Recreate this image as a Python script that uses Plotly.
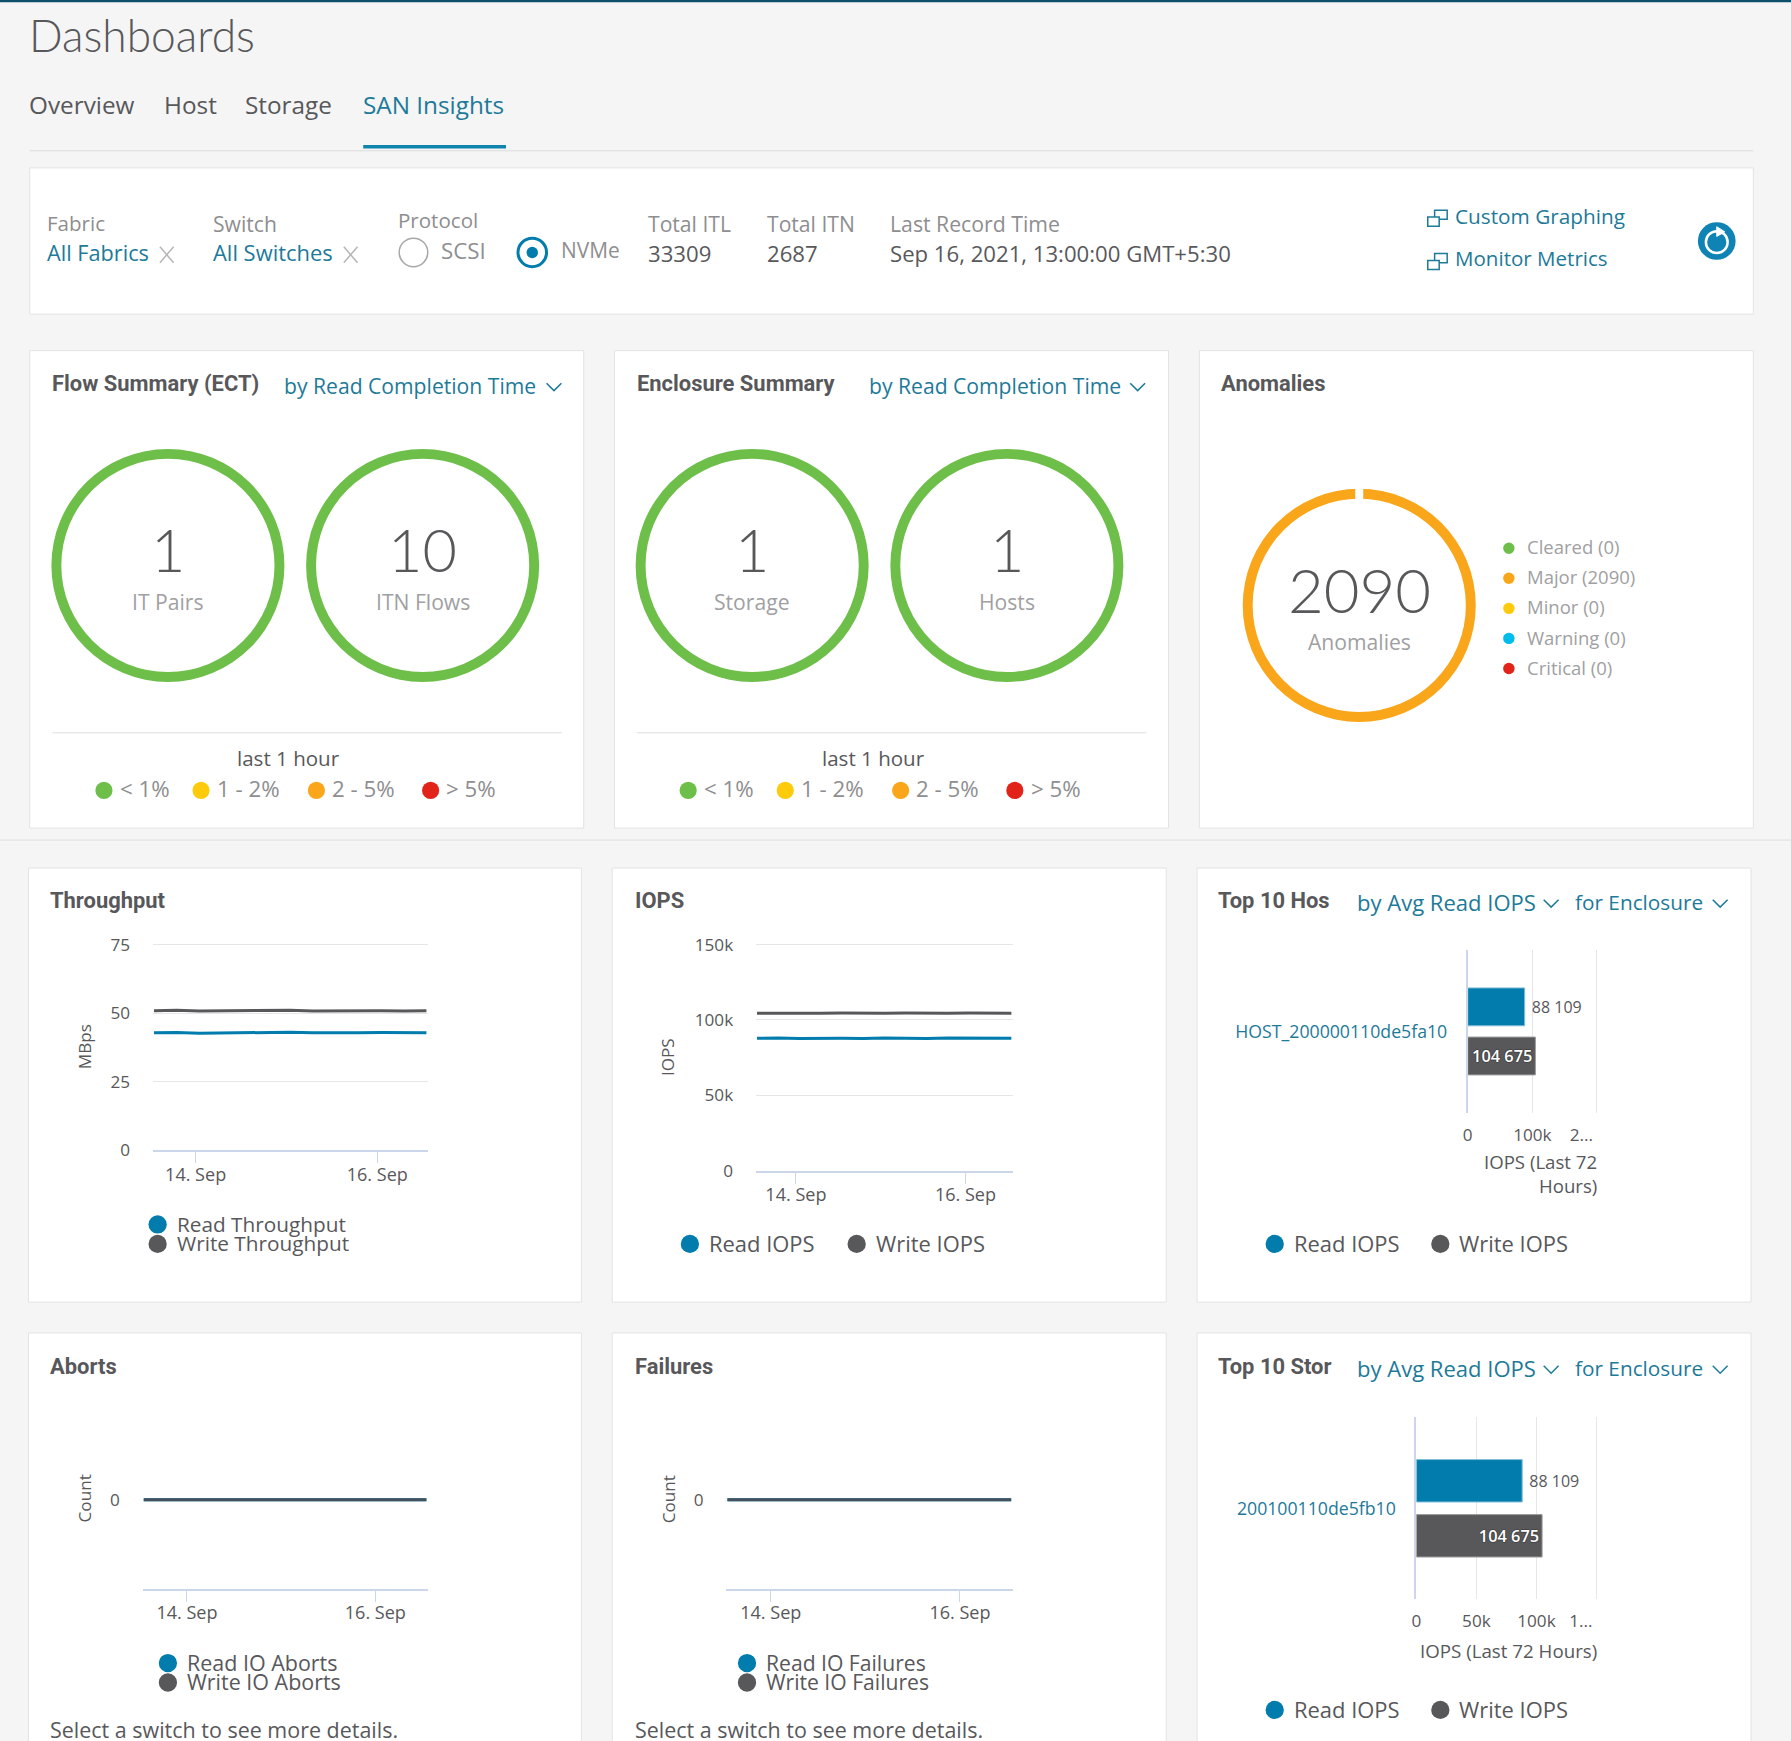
#! /usr/bin/env python3

import plotly.graph_objects as go

WIDTH = 1791
HEIGHT = 1741
S = WIDTH / 1568  # layout below was measured on a 1568 wide copy

BG = "#f5f5f5"
TEAL = "#1d7a99"
DARK = "#58585b"
GREY = "#8e8e90"
BLUE = "#017cad"
GREEN = "#6ebe4a"
ORANGE = "#f9a61a"
YELLOW = "#fdcb0b"
CYAN = "#00bceb"
RED = "#e2231a"
FONT = "Open Sans"

##### data
times = ["2021-09-13 13:00", "2021-09-13 19:00", "2021-09-14 01:00", "2021-09-14 07:00",
         "2021-09-14 13:00", "2021-09-14 19:00", "2021-09-15 01:00", "2021-09-15 07:00",
         "2021-09-15 13:00", "2021-09-15 19:00", "2021-09-16 01:00", "2021-09-16 07:00",
         "2021-09-16 13:00"]
read_throughput = [42.8, 42.9, 42.7, 42.8, 42.9, 42.8, 43.0, 42.8, 42.7, 42.8, 42.9, 42.8, 42.8]
write_throughput = [50.9, 51.0, 50.8, 50.9, 51.0, 50.9, 51.0, 50.8, 50.9, 51.0, 50.9, 50.8, 50.9]
read_iops = [87900, 88100, 87700, 88000, 87900, 87800, 88100, 87900, 87700, 88000, 87900, 88100, 87900]
write_iops = [104400, 104600, 104300, 104500, 104600, 104400, 104500, 104700, 104400, 104500, 104600, 104400, 104500]
read_aborts = [0] * 13
write_aborts = [0] * 13
read_failures = [0] * 13
write_failures = [0] * 13

host_names = ["HOST_200000110de5fa10"]
host_read = [88109]
host_write = [104675]
storage_names = ["200100110de5fb10"]
storage_read = [88109]
storage_write = [104675]

flow_values = [1, 10]
flow_labels = ["IT Pairs", "ITN Flows"]
enclosure_values = [1, 1]
enclosure_labels = ["Storage", "Hosts"]
anomaly_labels = ["Cleared", "Major", "Minor", "Warning", "Critical"]
anomaly_values = [0, 2090, 0, 0, 0]
anomaly_colors = [GREEN, ORANGE, YELLOW, CYAN, RED]
range_labels = ["< 1%", "1 - 2%", "2 - 5%", "> 5%"]
range_colors = [GREEN, YELLOW, ORANGE, RED]


def px(v):
     return v / 1568


def py(v):
     return 1 - v * S / HEIGHT


annotations = []
shapes = []


def text(x, y, s, size=19, color=DARK, anchor="left", weight=None, font=FONT, **kw):
     f = dict(family=font, size=size * S, color=color)
     if weight:
          f["weight"] = weight
     x += {"left": -2, "right": 1.5, "center": 0}[anchor]  # annotation box has padding
     annotations.append(dict(x=px(x), y=py(y - 0.7), text=s, xref="paper", yref="paper", showarrow=False,
                             xanchor=anchor, yanchor="middle", font=f, **kw))


def rect(x0, y0, x1, y1, fill, line=None, layer="below", width=1):
     shapes.append(dict(type="rect", xref="paper", yref="paper", x0=px(x0), x1=px(x1), y0=py(y0), y1=py(y1),
                        fillcolor=fill, line=dict(color=line, width=width if line else 0), layer=layer))


def dot(x, y, r, fill, line=None, width=1, layer="below"):
     shapes.append(dict(type="circle", xref="paper", yref="paper", x0=px(x - r), x1=px(x + r), y0=py(y - r),
                        y1=py(y + r), fillcolor=fill, line=dict(color=line, width=width if line else 0), layer=layer))


def path(points, color, width=1.5, fill=None):
     d = "M " + " L ".join(f"{px(a):.5f},{py(b):.5f}" for a, b in points)
     if fill:
          d += " Z"
     shapes.append(dict(type="path", xref="paper", yref="paper", path=d, line=dict(color=color, width=width),
                        fillcolor=fill, layer="below"))


def chevron(x, y):
     path([(x - 6.5, y - 3.5), (x, y + 3), (x + 6.5, y - 3.5)], TEAL)


def cross(x, y):
     path([(x - 6, y - 7), (x + 6, y + 7)], "#b5b5b5")
     path([(x - 6, y + 7), (x + 6, y - 7)], "#b5b5b5")


def icon(x, y):
     rect(x + 6, y - 6, x + 17, y + 2, "white", TEAL, width=1.5)
     rect(x, y, x + 10, y + 8, "white", TEAL, width=1.5)


def card(x0, y0, x1, y1):
     rect(x0, y0, x1, y1, "white", "#e3e3e3")


fig = go.Figure()

##### page furniture
rect(0, 0, 1568, 2, "#0e4f6e")
text(26, 30.7, "Dashboards", size=38.8, weight=300, font="Lato")
for x, s, c in [(26, "Overview", DARK), (144, "Host", DARK), (215, "Storage", DARK), (318, "SAN Insights", TEAL)]:
     text(x, 92, s, size=21.3, color=c)
rect(26, 131.5, 1535, 132.5, "#dcdcdc")
rect(318, 127, 443, 130, "#0f84ad")

card(26, 147, 1535, 275)
text(41, 196, "Fabric", color=GREY, size=18)
text(41, 222, "All Fabrics", color=TEAL, size=19)
cross(146, 223)
text(187, 196, "Switch", color=GREY, size=18.5)
text(187, 222, "All Switches", color=TEAL, size=19.2)
cross(307, 223)
text(349, 193, "Protocol", color=GREY, size=18)
dot(362, 221, 12.5, "white", "#a8a8a8", 1.5)
text(386, 220, "SCSI", color=GREY, size=19.5)
dot(466, 221, 12.5, "white", BLUE, 3)
dot(466, 221, 5, BLUE)
text(491, 220, "NVMe", color=GREY, size=18.3)
text(568, 196, "Total ITL", color=GREY, size=18.5)
text(568, 222, "33309", color=DARK, size=19.4)
text(672, 196, "Total ITN", color=GREY, size=18.5)
text(672, 222, "2687", color=DARK, size=19.4)
text(779, 196, "Last Record Time", color=GREY, size=18.6)
text(779, 222, "Sep 16, 2021, 13:00:00 GMT+5:30", color=DARK, size=19.4)
icon(1250, 190)
text(1274, 190, "Custom Graphing", color=TEAL, size=18.2)
icon(1250, 228)
text(1274, 227, "Monitor Metrics", color=TEAL, size=18)
dot(1503, 211, 16.5, "#0f84b4")
dot(1503, 212, 9.5, "#0f84b4", "white", 2.5)
path([(1503, 198.5), (1510, 203), (1503, 207)], "white", 1, "white")

##### summary row
card(26, 307, 511, 725)
card(538, 307, 1023, 725)
card(1050, 307, 1535, 725)
rect(0, 735, 1568, 736, "#e3e3e3")
text(46, 336.7, "Flow Summary (ECT)", weight=700, size=19.2, font="Roboto")
text(249, 338, "by Read Completion Time", color=TEAL, size=18.5)
chevron(485, 339)
text(558, 336.7, "Enclosure Summary", weight=700, size=19.2, font="Roboto")
text(761, 338, "by Read Completion Time", color=TEAL, size=18.5)
chevron(996, 339)
text(1069, 336.7, "Anomalies", weight=700, size=19.2, font="Roboto")


def ring(cx, cy, values, colors):
     r = 102
     fig.add_trace(go.Pie(values=values, marker=dict(colors=colors, line=dict(width=0)), hole=0.915, sort=False,
                          textinfo="none", showlegend=False, direction="clockwise",
                          domain=dict(x=[px(cx - r), px(cx + r)], y=[py(cy + r), py(cy - r)])))


for offset, values, labels in [(0, flow_values, flow_labels), (511.5, enclosure_values, enclosure_labels)]:
     for i, cx in enumerate([147, 370]):
          ring(cx + offset, 495, [values[i]], [GREEN])
          text(cx + offset, 481, str(values[i]), size=52, color=DARK, anchor="center", weight=300, font="Lato")
          text(cx + offset, 527, labels[i], color="#a0a0a2", anchor="center", size=18.5)
     rect(46 + offset, 641, 492 + offset, 642, "#dedede")
     text(253 + offset, 664, "last 1 hour", anchor="center", size=18)
     for s, c, x in zip(range_labels, range_colors, [91, 176, 277, 377]):
          dot(x + offset, 692, 7.5, c)
          text(x + 14 + offset, 691, s, color=GREY, size=19.5)

ring(1190, 530, anomaly_values, anomaly_colors)
rect(1186.5, 425, 1193.5, 442, "white", layer="above")
text(1190, 516, f"{sum(anomaly_values)}", size=54, anchor="center", weight=300, font="Lato")
text(1190, 562, "Anomalies", color="#a0a0a2", anchor="center", size=18.5)
for i, (s, v, c) in enumerate(zip(anomaly_labels, anomaly_values, anomaly_colors)):
     dot(1321, 480 + 26.3 * i, 5, c)
     text(1337, 479.5 + 26.3 * i, f"{s} ({v})", color="#a0a0a2", size=16.2)

##### chart cards
for x0, x1 in [(25, 509), (536, 1021), (1048, 1533)]:
     card(x0, 760, x1, 1140)
     card(x0, 1167, x1, 1560)

text(44, 788.7, "Throughput", weight=700, size=19.2, font="Roboto")
text(556, 788.7, "IOPS", weight=700, size=19.2, font="Roboto")
text(44, 1196.7, "Aborts", weight=700, size=19.2, font="Roboto")
text(556, 1196.7, "Failures", weight=700, size=19.2, font="Roboto")
for y, s in [(788.7, "Top 10 Hos"), (1196.7, "Top 10 Stor")]:
     text(1067, y, s, weight=700, size=19.2, font="Roboto")
     text(1188, y + 1.5, "by Avg Read IOPS", color=TEAL, size=19.3)
     chevron(1358, y + 2.5)
     text(1379, y + 1.5, "for Enclosure", color=TEAL, size=18.2)
     chevron(1506, y + 2.5)

layout_axes = {}
axis_count = 0


def time_chart(box, read, write, yticks, yrange, read_color=BLUE, write_color=DARK):
     global axis_count
     axis_count += 1
     n = "" if axis_count == 1 else str(axis_count)
     x0, x1, y0, y1 = box
     fig.add_trace(go.Scatter(x=times, y=read, mode="lines", line=dict(color=read_color, width=3),
                              xaxis=f"x{n}", yaxis=f"y{n}", showlegend=False))
     fig.add_trace(go.Scatter(x=times, y=write, mode="lines", line=dict(color=write_color, width=3),
                              xaxis=f"x{n}", yaxis=f"y{n}", showlegend=False))
     layout_axes[f"xaxis{n}"] = dict(
          domain=[px(x0), px(x1)], anchor=f"y{n}", type="date", automargin=False,
          range=["2021-09-13 12:45", "2021-09-16 13:30"],
          tickvals=["2021-09-14", "2021-09-16"], ticktext=["14. Sep", "16. Sep"],
          ticks="outside", ticklen=11, tickcolor="#ccd6eb", showgrid=False, showline=True,
          linecolor="#ccd6eb", linewidth=1.5, zeroline=False, ticklabelstandoff=-4,
          tickfont=dict(family=FONT, size=15.8 * S, color=DARK))
     layout_axes[f"yaxis{n}"] = dict(
          domain=[py(y1), py(y0)], anchor=f"x{n}", range=yrange, automargin=False,
          tickvals=yticks[0], ticktext=yticks[1], gridcolor="#e6e6e6", gridwidth=1, zeroline=False,
          showgrid=len(yticks[0]) > 1, ticklabelstandoff=22,
          tickfont=dict(family=FONT, size=15 * S, color=DARK))


def bar_chart(box, names, read, write, ticks, labels):
     global axis_count
     axis_count += 1
     n = str(axis_count)
     x0, x1, y0, y1 = box
     fig.add_trace(go.Bar(y=names, x=read, orientation="h", marker=dict(color=BLUE, line=dict(color="#7fbdd6", width=1)),
                          text=["\u00a0" + f"{v:,}".replace(",", " ") for v in read], textposition="outside", cliponaxis=False,
                          textfont=dict(family=FONT, size=14 * S, color=DARK), xaxis=f"x{n}", yaxis=f"y{n}", showlegend=False))
     fig.add_trace(go.Bar(y=names, x=write, orientation="h", marker=dict(color=DARK, line=dict(color="#9a9a9c", width=1)),
                          text=[f"{v:,}".replace(",", " ") for v in write], textposition="inside", constraintext="none",
                          insidetextanchor="end", cliponaxis=False,
                          textfont=dict(family=FONT, size=14.3 * S, color="white", weight=600,
                                        shadow="-1px 0 #444, 1px 0 #444, 0 -1px #444, 0 1px #444"),
                          xaxis=f"x{n}", yaxis=f"y{n}", showlegend=False))
     layout_axes[f"xaxis{n}"] = dict(
          domain=[px(x0), px(x1 + 1)], anchor=f"y{n}", range=[ticks[0], ticks[-1] * 1.008], tickvals=ticks, ticktext=labels,
          gridcolor="#e6e6e6", zeroline=False, showline=False, ticklabelstandoff=10, automargin=False,
          tickfont=dict(family=FONT, size=15 * S, color=DARK))
     layout_axes[f"yaxis{n}"] = dict(
          domain=[py(y1), py(y0)], anchor=f"x{n}", autorange="reversed", showline=True, linecolor="#ccd6eb",
          linewidth=2, ticklabelstandoff=15, automargin=False, tickfont=dict(family=FONT, size=15.5 * S, color=TEAL))


time_chart((134, 375, 826, 1007), read_throughput, write_throughput, ([0, 25, 50, 75], ["0", "25", "50", "75"]), [0, 75.4])
time_chart((662, 887, 826, 1025), read_iops, write_iops, ([0, 50000, 100000, 150000], ["0", "50k", "100k", "150k"]), [0, 150750])
time_chart((125, 375, 1235, 1391), read_aborts, write_aborts, ([0], ["0"]), [-1, 1], write_color="#44525e")
time_chart((636, 887, 1235, 1391), read_failures, write_failures, ([0], ["0"]), [-1, 1], write_color="#44525e")
bar_chart((1285, 1398, 832, 974), host_names, host_read, host_write, [0, 100000, 200000],
          ["0", "100k", "2...\u00a0\u00a0\u00a0\u00a0\u00a0\u00a0\u00a0"])
bar_chart((1240, 1398, 1241, 1400), storage_names, storage_read, storage_write, [0, 50000, 100000, 150000],
          ["0", "50k", "100k", "1...\u00a0\u00a0\u00a0\u00a0\u00a0\u00a0\u00a0"])

text(74, 917, "MBps", size=15, anchor="center", textangle=-90)
text(585, 926, "IOPS", size=15, anchor="center", textangle=-90)
text(74, 1313, "Count", size=15, anchor="center", textangle=-90)
text(586, 1313, "Count", size=15, anchor="center", textangle=-90)
text(1398, 1018, "IOPS (Last 72", anchor="right", size=16.3)
text(1398, 1039, "Hours)", anchor="right", size=16.3)
text(1398, 1446, "IOPS (Last 72 Hours)", anchor="right", size=16.4)

##### chart legends
for x, y, s, c, size in [(138, 1072, "Read Throughput", BLUE, 18.2), (138, 1089, "Write Throughput", DARK, 18.2),
                         (604, 1089, "Read IOPS", BLUE, 19.2), (750, 1089, "Write IOPS", DARK, 19.2),
                         (1116, 1089, "Read IOPS", BLUE, 19.2), (1261, 1089, "Write IOPS", DARK, 19.2),
                         (1116, 1497, "Read IOPS", BLUE, 19.2), (1261, 1497, "Write IOPS", DARK, 19.2),
                         (147, 1456, "Read IO Aborts", BLUE, 18.8), (147, 1473, "Write IO Aborts", DARK, 18.8),
                         (654, 1456, "Read IO Failures", BLUE, 18.5), (654, 1473, "Write IO Failures", DARK, 18.5)]:
     dot(x, y, 8, c)
     text(x + 17, y, s, size=size)

text(44, 1514.5, "Select a switch to see more details.", size=18.8)
text(556, 1514.5, "Select a switch to see more details.", size=18.8)

fig.update_layout(width=WIDTH, height=HEIGHT, margin=dict(l=0, r=0, t=0, b=0), paper_bgcolor=BG, plot_bgcolor="rgba(0,0,0,0)",
                  showlegend=False, barmode="group", bargap=0.394, bargroupgap=0.23,
                  shapes=shapes, annotations=annotations, **layout_axes)

fig.write_html("out.html", config=dict(displayModeBar=False), post_script="document.body.style.margin='0';")
